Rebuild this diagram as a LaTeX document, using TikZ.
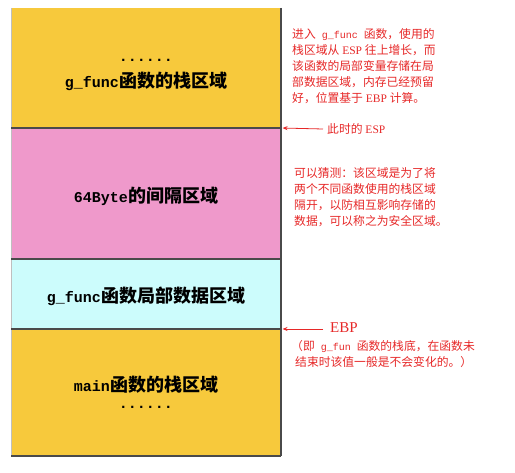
\documentclass[tikz,border=0pt]{standalone}
\usepackage{fontspec}
\setmainfont{Liberation Serif}
\newfontfamily\cjk{Noto Sans CJK SC}
\newfontfamily\lmono{Liberation Mono}
\usetikzlibrary{arrows.meta}
\definecolor{ystack}{HTML}{F7C93C}
\definecolor{pgap}{HTML}{EF99CB}
\definecolor{cdata}{HTML}{CCFCFC}
\definecolor{rtext}{HTML}{E62828}
\definecolor{edgegray}{HTML}{4A4A4A}
\newcommand\blat{\lmono\bfseries\fontsize{15}{20}\selectfont}
\newcommand\bcjk{\cjk\bfseries\fontsize{18}{20}\selectfont}
\newcommand\rmono{\lmono\fontsize{10}{16}\selectfont}
\newcommand\rser{\rmfamily\fontsize{11.5}{16}\selectfont}
\begin{document}
\begin{tikzpicture}[x=1pt,y=-1pt,
  blk/.style={draw=none, minimum width=270pt, inner sep=0pt, outer sep=0pt, anchor=north west},
  lbl/.style={inner sep=0pt, text=black},
  rnote/.style={inner sep=0pt, anchor=west, align=left, text=rtext, font=\cjk\fontsize{11.8}{16}\selectfont},
  edge/.style={draw=edgegray, line width=1.2pt},
  rarrow/.style={draw=rtext, line width=0.8pt, -{Stealth[length=5pt,width=4pt]}, shorten >=1.5pt}]
\useasboundingbox (0,0) rectangle (515,473);
% stack blocks
\node[blk, fill=ystack, minimum height=120pt] (b1) at (11,8) {};
\node[blk, fill=pgap,   minimum height=131pt] (b2) at (11,128) {};
\node[blk, fill=cdata,  minimum height=70pt]  (b3) at (11,259) {};
\node[blk, fill=ystack, minimum height=127pt] (b4) at (11,329) {};
\draw[draw=black!25, line width=0.8pt] (b1.north west) -- (b4.south west);
\draw[edge] (b1.south west) -- (b1.south east);
\draw[edge] (b2.south west) -- (b2.south east);
\draw[edge] (b3.south west) -- (b3.south east);
\draw[edge] (b4.south west) -- (b4.south east);
\draw[edge] (b1.north east) -- (b4.south east);
% block texts
\node[lbl] (d1) at (146,60) {\blat ......};
\node[lbl] (t1) at (146,81) {{\blat g\_func}{\bcjk 函数的栈区域}};
\node[lbl] (t2) at (146,196) {{\blat 64Byte}{\bcjk 的间隔区域}};
\node[lbl] (t3) at (146,296) {{\blat g\_func}{\bcjk 函数局部数据区域}};
\node[lbl] (t4) at (146,385) {{\blat main}{\bcjk 函数的栈区域}};
\node[lbl] (d4) at (146,407) {\blat ......};
% red notes
\node[rnote] (n1) at (292,66) {进入{\rmono{} g\_func }函数，使用的\\
栈区域从{\rser{} ESP }往上增长，而\\
该函数的局部变量存储在局\\
部数据区域，内存已经预留\\
好，位置基于{\rser{} EBP }计算。};
\node[rnote] (esp) at (327,129) {此时的{\rser{} ESP}};
\node[rnote] (n2) at (294,197) {可以猜测：该区域是为了将\\
两个不同函数使用的栈区域\\
隔开，以防相互影响存储的\\
数据，可以称之为安全区域。};
\node[rnote] (ebp) at (330,328) {{\rmfamily\fontsize{15}{16}\selectfont EBP}};
\node[rnote] (n3) at (291,354) {（即{\rmono{} g\_fun }函数的栈底，在函数未\\
\hspace*{4pt}结束时该值一般是不会变化的。）};
% arrows
\coordinate (espstart) at (323,129);
\coordinate (ebpstart) at (323,329);
\draw[rarrow] (espstart) -- (b1.south east);
\draw[rarrow] (ebpstart) -- (b3.south east);
\end{tikzpicture}
\end{document}
